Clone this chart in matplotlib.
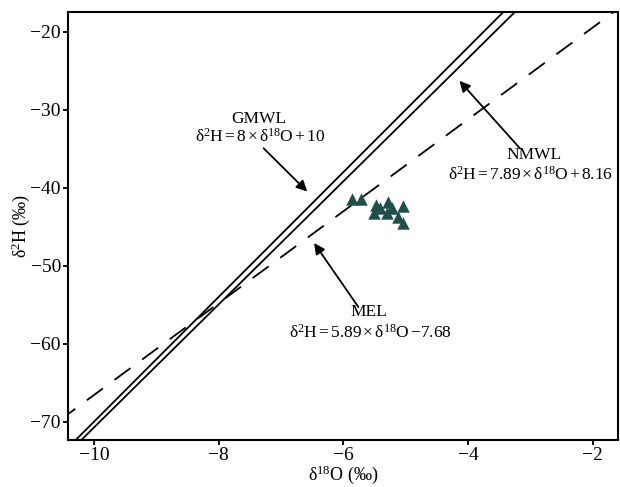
import numpy as np
import matplotlib
matplotlib.use("Agg")
import matplotlib.pyplot as plt

plt.rcParams['font.family'] = ['Liberation Serif', 'DejaVu Serif']
plt.rcParams['mathtext.fontset'] = 'custom'
plt.rcParams['mathtext.rm'] = 'Liberation Serif'
plt.rcParams['mathtext.it'] = 'Liberation Serif:italic'

# sample isotope values (per mil)
d18o = [-5.87, -5.72, -5.48, -5.28, -5.05, -5.51, -5.30, -5.12, -5.04, -5.41, -5.22]
d2h = [-41.5, -41.5, -42.2, -41.8, -42.3, -43.2, -43.3, -43.7, -44.5, -42.6, -42.6]

# water lines: (slope, intercept)
gmwl = (8.0, 10.0)
nmwl = (7.89, 8.16)
mel = (5.89, -7.68)

xlim = (-10.42, -1.59)
ylim = (-72.35, -17.44)

fig = plt.figure(figsize=(6.2, 4.87), dpi=100)
ax = fig.add_axes([0.1094, 0.0965, 0.888, 0.8795])

xs = np.array([-11.0, -1.0])
ax.plot(xs, gmwl[0] * xs + gmwl[1], color='k', lw=1.3)
ax.plot(xs, nmwl[0] * xs + nmwl[1], color='k', lw=1.3)
ax.plot(xs, mel[0] * xs + mel[1], color='k', lw=1.3, linestyle=(0, (11, 8)))

ax.scatter(d18o, d2h, marker='^', s=80, color='#1d4f4b', zorder=3, linewidths=0)

arrow = dict(arrowstyle='-|>', color='k', lw=1.3, mutation_scale=16, shrinkA=0, shrinkB=0)
fs = 12.5
sp = r'$\,$'


def eq(a, b):
    return 'δ$^{2}$H' + sp + '=' + sp + a + sp + '×' + sp + 'δ$^{18}$O' + sp + b


ax.annotate('', xy=(-6.58, -40.5), xytext=(-7.28, -34.95), arrowprops=arrow)
ax.text(-7.35, -31.2, 'GMWL', ha='center', va='center', fontsize=fs)
ax.text(-7.33, -33.5, eq('8', '+' + sp + '10'), ha='center', va='center', fontsize=fs)

ax.annotate('', xy=(-4.14, -26.3), xytext=(-3.17, -34.95), arrowprops=arrow)
ax.text(-2.95, -35.8, 'NMWL', ha='center', va='center', fontsize=fs)
ax.text(-3.0, -38.4, eq('7.89', '+' + sp + '8.16'), ha='center', va='center', fontsize=fs)

ax.annotate('', xy=(-6.47, -47.1), xytext=(-5.76, -55.3), arrowprops=arrow)
ax.text(-5.6, -56.0, 'MEL', ha='center', va='center', fontsize=fs)
ax.text(-5.57, -58.6, eq('5.89', '−7.68'), ha='center', va='center', fontsize=fs)

ax.set_xlim(xlim)
ax.set_ylim(ylim)
ax.set_xticks([-10, -8, -6, -4, -2])
ax.set_yticks([-70, -60, -50, -40, -30, -20])
ax.tick_params(direction='out', length=3.5, width=1.3, pad=1.5, labelsize=14)
for s in ax.spines.values():
    s.set_linewidth(1.5)
ax.set_xlabel('δ$^{18}$O (‰)', fontsize=13, labelpad=0)
ax.set_ylabel('δ$^{2}$H (‰)', fontsize=13, labelpad=-1)

fig.savefig('out.png', dpi=100)
